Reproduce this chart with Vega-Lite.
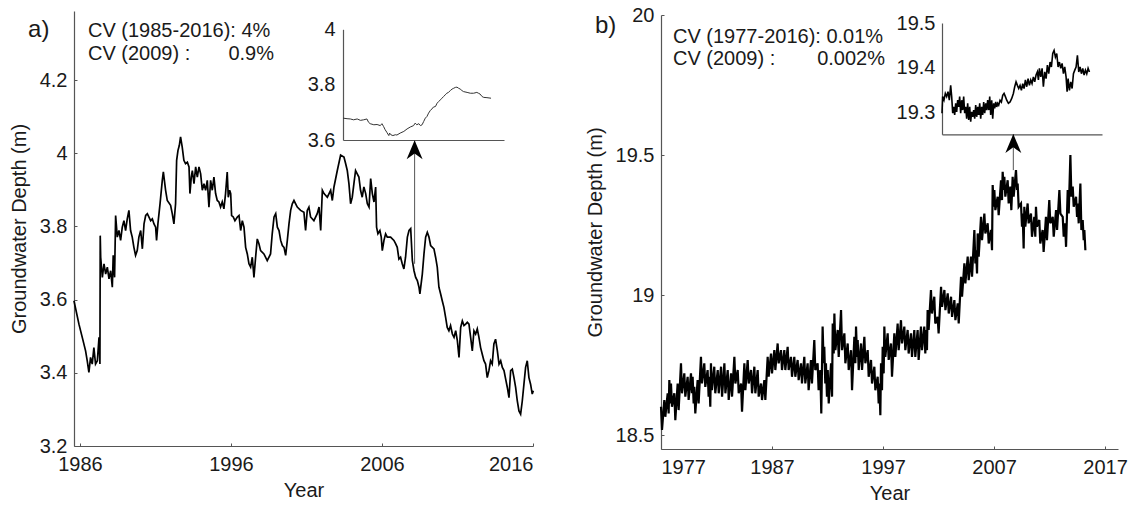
{
"$schema":"https://vega.github.io/schema/vega-lite/v6.json",
"width":1132,"height":506,"padding":0,"autosize":{"type":"none"},"background":"white",
"config":{"view":{"stroke":null},"axis":{"grid":false,"labelFont":"Liberation Sans","titleFont":"Liberation Sans","labelFontSize":20,"titleFontSize":20,"titleFontWeight":"normal","labelColor":"#1a1a1a","titleColor":"#1a1a1a","domainColor":"#555555","tickColor":"#555555","domainWidth":1.2,"tickWidth":1},"text":{"font":"Liberation Sans","fontSize":20,"color":"#1a1a1a"}},
"layer":[
{"layer":[
{"data":{"values":[
{"year":1985.60,"depth":3.597},{"year":1985.93,"depth":3.533},{"year":1986.15,"depth":3.497},{"year":1986.37,"depth":3.460},{"year":1986.48,"depth":3.433},{"year":1986.59,"depth":3.401},{"year":1986.70,"depth":3.442},{"year":1986.81,"depth":3.424},{"year":1986.92,"depth":3.469},{"year":1987.03,"depth":3.424},{"year":1987.15,"depth":3.433},{"year":1987.26,"depth":3.497},{"year":1987.32,"depth":3.424},{"year":1987.34,"depth":3.775},{"year":1987.37,"depth":3.716},{"year":1987.48,"depth":3.661},{"year":1987.59,"depth":3.698},{"year":1987.70,"depth":3.670},{"year":1987.81,"depth":3.689},{"year":1987.92,"depth":3.657},{"year":1988.03,"depth":3.679},{"year":1988.14,"depth":3.634},{"year":1988.20,"depth":3.721},{"year":1988.29,"depth":3.661},{"year":1988.36,"depth":3.830},{"year":1988.47,"depth":3.771},{"year":1988.58,"depth":3.789},{"year":1988.69,"depth":3.762},{"year":1988.80,"depth":3.798},{"year":1988.91,"depth":3.816},{"year":1989.02,"depth":3.789},{"year":1989.13,"depth":3.821},{"year":1989.24,"depth":3.844},{"year":1989.35,"depth":3.789},{"year":1989.46,"depth":3.771},{"year":1989.57,"depth":3.743},{"year":1989.68,"depth":3.721},{"year":1989.79,"depth":3.734},{"year":1989.90,"depth":3.771},{"year":1990.02,"depth":3.789},{"year":1990.13,"depth":3.739},{"year":1990.24,"depth":3.807},{"year":1990.35,"depth":3.830},{"year":1990.46,"depth":3.835},{"year":1990.68,"depth":3.816},{"year":1990.79,"depth":3.821},{"year":1990.90,"depth":3.807},{"year":1991.01,"depth":3.798},{"year":1991.07,"depth":3.762},{"year":1991.16,"depth":3.807},{"year":1991.30,"depth":3.862},{"year":1991.45,"depth":3.926},{"year":1991.52,"depth":3.949},{"year":1991.67,"depth":3.899},{"year":1991.78,"depth":3.871},{"year":1992.00,"depth":3.858},{"year":1992.11,"depth":3.835},{"year":1992.22,"depth":3.807},{"year":1992.33,"depth":3.862},{"year":1992.40,"depth":3.981},{"year":1992.49,"depth":4.008},{"year":1992.58,"depth":4.022},{"year":1992.66,"depth":4.045},{"year":1992.77,"depth":4.017},{"year":1992.88,"depth":3.981},{"year":1992.99,"depth":3.972},{"year":1993.11,"depth":3.976},{"year":1993.22,"depth":3.963},{"year":1993.28,"depth":3.890},{"year":1993.37,"depth":3.935},{"year":1993.44,"depth":3.953},{"year":1993.55,"depth":3.917},{"year":1993.66,"depth":3.963},{"year":1993.77,"depth":3.935},{"year":1993.88,"depth":3.963},{"year":1993.99,"depth":3.944},{"year":1994.10,"depth":3.899},{"year":1994.21,"depth":3.917},{"year":1994.32,"depth":3.899},{"year":1994.43,"depth":3.926},{"year":1994.54,"depth":3.853},{"year":1994.65,"depth":3.926},{"year":1994.76,"depth":3.899},{"year":1994.87,"depth":3.935},{"year":1994.98,"depth":3.890},{"year":1995.09,"depth":3.871},{"year":1995.20,"depth":3.867},{"year":1995.31,"depth":3.853},{"year":1995.42,"depth":3.867},{"year":1995.53,"depth":3.848},{"year":1995.64,"depth":3.890},{"year":1995.75,"depth":3.949},{"year":1995.82,"depth":3.880},{"year":1995.91,"depth":3.899},{"year":1995.98,"depth":3.890},{"year":1996.04,"depth":3.830},{"year":1996.15,"depth":3.826},{"year":1996.26,"depth":3.816},{"year":1996.42,"depth":3.826},{"year":1996.53,"depth":3.830},{"year":1996.64,"depth":3.789},{"year":1996.75,"depth":3.816},{"year":1996.86,"depth":3.798},{"year":1996.97,"depth":3.743},{"year":1997.08,"depth":3.725},{"year":1997.19,"depth":3.698},{"year":1997.30,"depth":3.689},{"year":1997.41,"depth":3.716},{"year":1997.52,"depth":3.661},{"year":1997.63,"depth":3.716},{"year":1997.74,"depth":3.766},{"year":1997.85,"depth":3.753},{"year":1997.96,"depth":3.734},{"year":1998.18,"depth":3.725},{"year":1998.40,"depth":3.707},{"year":1998.62,"depth":3.725},{"year":1998.73,"depth":3.780},{"year":1998.85,"depth":3.826},{"year":1998.96,"depth":3.835},{"year":1999.07,"depth":3.798},{"year":1999.18,"depth":3.789},{"year":1999.29,"depth":3.762},{"year":1999.40,"depth":3.748},{"year":1999.51,"depth":3.743},{"year":1999.62,"depth":3.721},{"year":1999.73,"depth":3.762},{"year":1999.84,"depth":3.807},{"year":1999.95,"depth":3.844},{"year":2000.06,"depth":3.862},{"year":2000.17,"depth":3.871},{"year":2000.39,"depth":3.853},{"year":2000.61,"depth":3.844},{"year":2000.83,"depth":3.839},{"year":2000.94,"depth":3.789},{"year":2001.05,"depth":3.844},{"year":2001.16,"depth":3.853},{"year":2001.27,"depth":3.826},{"year":2001.49,"depth":3.816},{"year":2001.71,"depth":3.835},{"year":2001.83,"depth":3.853},{"year":2001.94,"depth":3.789},{"year":2002.05,"depth":3.899},{"year":2002.16,"depth":3.890},{"year":2002.38,"depth":3.880},{"year":2002.60,"depth":3.899},{"year":2002.71,"depth":3.871},{"year":2002.82,"depth":3.908},{"year":2003.04,"depth":3.953},{"year":2003.26,"depth":3.995},{"year":2003.48,"depth":3.990},{"year":2003.59,"depth":3.972},{"year":2003.70,"depth":3.953},{"year":2003.81,"depth":3.917},{"year":2003.92,"depth":3.862},{"year":2004.03,"depth":3.880},{"year":2004.14,"depth":3.917},{"year":2004.25,"depth":3.953},{"year":2004.36,"depth":3.944},{"year":2004.47,"depth":3.935},{"year":2004.58,"depth":3.899},{"year":2004.69,"depth":3.880},{"year":2004.80,"depth":3.908},{"year":2004.92,"depth":3.890},{"year":2005.03,"depth":3.862},{"year":2005.14,"depth":3.853},{"year":2005.25,"depth":3.931},{"year":2005.36,"depth":3.890},{"year":2005.47,"depth":3.867},{"year":2005.58,"depth":3.908},{"year":2005.64,"depth":3.798},{"year":2005.73,"depth":3.780},{"year":2005.86,"depth":3.789},{"year":2005.95,"depth":3.771},{"year":2006.02,"depth":3.734},{"year":2006.13,"depth":3.762},{"year":2006.24,"depth":3.780},{"year":2006.35,"depth":3.771},{"year":2006.57,"depth":3.771},{"year":2006.79,"depth":3.762},{"year":2006.90,"depth":3.753},{"year":2007.01,"depth":3.743},{"year":2007.12,"depth":3.711},{"year":2007.23,"depth":3.716},{"year":2007.34,"depth":3.698},{"year":2007.45,"depth":3.684},{"year":2007.56,"depth":3.716},{"year":2007.68,"depth":3.771},{"year":2007.79,"depth":3.789},{"year":2007.90,"depth":3.794},{"year":2008.01,"depth":3.707},{"year":2008.12,"depth":3.679},{"year":2008.23,"depth":3.661},{"year":2008.34,"depth":3.652},{"year":2008.45,"depth":3.634},{"year":2008.51,"depth":3.616},{"year":2008.67,"depth":3.670},{"year":2008.78,"depth":3.725},{"year":2008.89,"depth":3.771},{"year":2009.00,"depth":3.784},{"year":2009.11,"depth":3.771},{"year":2009.22,"depth":3.748},{"year":2009.44,"depth":3.739},{"year":2009.55,"depth":3.716},{"year":2009.66,"depth":3.689},{"year":2009.77,"depth":3.634},{"year":2009.88,"depth":3.616},{"year":2009.99,"depth":3.597},{"year":2010.10,"depth":3.579},{"year":2010.21,"depth":3.552},{"year":2010.32,"depth":3.524},{"year":2010.43,"depth":3.515},{"year":2010.54,"depth":3.529},{"year":2010.66,"depth":3.506},{"year":2010.77,"depth":3.497},{"year":2010.88,"depth":3.515},{"year":2010.99,"depth":3.488},{"year":2011.10,"depth":3.442},{"year":2011.21,"depth":3.524},{"year":2011.32,"depth":3.542},{"year":2011.43,"depth":3.529},{"year":2011.54,"depth":3.533},{"year":2011.65,"depth":3.538},{"year":2011.76,"depth":3.533},{"year":2011.87,"depth":3.497},{"year":2011.98,"depth":3.460},{"year":2012.09,"depth":3.515},{"year":2012.20,"depth":3.506},{"year":2012.31,"depth":3.520},{"year":2012.42,"depth":3.497},{"year":2012.53,"depth":3.469},{"year":2012.64,"depth":3.451},{"year":2012.75,"depth":3.433},{"year":2012.86,"depth":3.424},{"year":2012.97,"depth":3.387},{"year":2013.08,"depth":3.406},{"year":2013.19,"depth":3.433},{"year":2013.30,"depth":3.424},{"year":2013.41,"depth":3.479},{"year":2013.52,"depth":3.492},{"year":2013.64,"depth":3.460},{"year":2013.75,"depth":3.424},{"year":2013.86,"depth":3.433},{"year":2013.97,"depth":3.415},{"year":2014.08,"depth":3.406},{"year":2014.19,"depth":3.383},{"year":2014.30,"depth":3.360},{"year":2014.41,"depth":3.332},{"year":2014.52,"depth":3.406},{"year":2014.63,"depth":3.410},{"year":2014.74,"depth":3.387},{"year":2014.85,"depth":3.360},{"year":2014.96,"depth":3.323},{"year":2015.07,"depth":3.296},{"year":2015.18,"depth":3.287},{"year":2015.29,"depth":3.323},{"year":2015.40,"depth":3.369},{"year":2015.51,"depth":3.415},{"year":2015.62,"depth":3.433},{"year":2015.73,"depth":3.387},{"year":2015.84,"depth":3.369},{"year":2015.95,"depth":3.342},{"year":2016.02,"depth":3.351}
]},
"mark":{"type":"line","color":"black","strokeWidth":1.7},
"encoding":{
"x":{"field":"year","type":"quantitative","scale":{"domain":[1985.603,2016.0],"range":[74,533],"nice":false,"zero":false},"axis":{"orient":"bottom","offset":-60,"values":[1986,1996,2006,2016],"format":"d","tickSize":-3,"labelPadding":11,"title":"Year","titlePadding":6}},
"y":{"field":"depth","type":"quantitative","scale":{"domain":[3.2,4.389],"range":[446,11],"nice":false,"zero":false},"axis":{"orient":"left","offset":-74,"values":[3.2,3.4,3.6,3.8,4,4.2],"labelExpr":"'' + datum.value","tickSize":-3,"labelPadding":10,"title":"Groundwater Depth (m)","titlePadding":10}}
}},
{"data":{"values":[{}]},"mark":{"type":"rule","color":"#555555","strokeWidth":1},"encoding":{"x":{"datum":2008.16},"y":{"datum":3.698},"y2":{"datum":4.036}}},
{"data":{"values":[{}]},"mark":{"type":"point","shape":"M0,0L0.42,1L0,0.7L-0.42,1Z","size":1444,"filled":true,"color":"black","opacity":1,"strokeWidth":0},"encoding":{"x":{"datum":2008.16},"y":{"datum":4.036}}},
{"data":{"values":[{}]},"mark":{"type":"text","text":"a)","fontSize":24,"align":"left","baseline":"alphabetic"},"encoding":{"x":{"datum":1982.56},"y":{"datum":4.319}}},
{"data":{"values":[{}]},"mark":{"type":"text","text":"CV (1985-2016): 4%","align":"left","baseline":"alphabetic"},"encoding":{"x":{"datum":1986.53},"y":{"datum":4.317}}},
{"data":{"values":[{}]},"mark":{"type":"text","text":"CV (2009) :","align":"left","baseline":"alphabetic"},"encoding":{"x":{"datum":1986.53},"y":{"datum":4.255}}},
{"data":{"values":[{}]},"mark":{"type":"text","text":"0.9%","align":"right","baseline":"alphabetic"},"encoding":{"x":{"datum":1998.85},"y":{"datum":4.255}}}
]},
{"data":{"values":[
{"day":1,"depth":3.679},{"day":11,"depth":3.677},{"day":19,"depth":3.676},{"day":27,"depth":3.673},{"day":36,"depth":3.676},{"day":44,"depth":3.671},{"day":52,"depth":3.673},{"day":60,"depth":3.676},{"day":64,"depth":3.664},{"day":68,"depth":3.659},{"day":77,"depth":3.655},{"day":85,"depth":3.656},{"day":93,"depth":3.652},{"day":97,"depth":3.659},{"day":101,"depth":3.649},{"day":105,"depth":3.637},{"day":109,"depth":3.628},{"day":114,"depth":3.616},{"day":116,"depth":3.625},{"day":119,"depth":3.619},{"day":124,"depth":3.616},{"day":130,"depth":3.619},{"day":134,"depth":3.618},{"day":142,"depth":3.625},{"day":151,"depth":3.631},{"day":159,"depth":3.640},{"day":167,"depth":3.647},{"day":175,"depth":3.652},{"day":179,"depth":3.661},{"day":183,"depth":3.655},{"day":188,"depth":3.659},{"day":192,"depth":3.652},{"day":196,"depth":3.655},{"day":200,"depth":3.667},{"day":204,"depth":3.679},{"day":208,"depth":3.685},{"day":212,"depth":3.697},{"day":216,"depth":3.706},{"day":220,"depth":3.712},{"day":224,"depth":3.719},{"day":229,"depth":3.721},{"day":233,"depth":3.733},{"day":237,"depth":3.739},{"day":241,"depth":3.745},{"day":245,"depth":3.751},{"day":249,"depth":3.757},{"day":253,"depth":3.763},{"day":257,"depth":3.769},{"day":261,"depth":3.772},{"day":266,"depth":3.779},{"day":270,"depth":3.784},{"day":274,"depth":3.787},{"day":278,"depth":3.790},{"day":282,"depth":3.791},{"day":286,"depth":3.787},{"day":290,"depth":3.784},{"day":294,"depth":3.779},{"day":298,"depth":3.775},{"day":307,"depth":3.772},{"day":315,"depth":3.769},{"day":323,"depth":3.769},{"day":331,"depth":3.772},{"day":335,"depth":3.769},{"day":339,"depth":3.766},{"day":344,"depth":3.757},{"day":348,"depth":3.754},{"day":356,"depth":3.753},{"day":366,"depth":3.751}
]},
"mark":{"type":"line","color":"#333333","strokeWidth":1},
"encoding":{
"x":{"field":"day","type":"quantitative","scale":{"domain":[1,398],"range":[343,504],"nice":false,"zero":false},"axis":{"orient":"bottom","offset":-366,"labels":false,"ticks":false,"title":null}},
"y":{"field":"depth","type":"quantitative","scale":{"domain":[3.6,4.0],"range":[140,29.3],"nice":false,"zero":false},"axis":{"orient":"left","offset":-343,"values":[3.6,3.8,4],"labelExpr":"'' + datum.value","ticks":false,"labelPadding":8,"title":null}}
}},
{"layer":[
{"data":{"values":[
{"year":1977.00,"depth":18.601},{"year":1977.09,"depth":18.518},{"year":1977.30,"depth":18.625},{"year":1977.39,"depth":18.565},{"year":1977.60,"depth":18.649},{"year":1977.69,"depth":18.577},{"year":1977.75,"depth":18.696},{"year":1977.84,"depth":18.613},{"year":1977.90,"depth":18.684},{"year":1977.99,"depth":18.601},{"year":1978.20,"depth":18.649},{"year":1978.29,"depth":18.553},{"year":1978.50,"depth":18.684},{"year":1978.59,"depth":18.589},{"year":1978.80,"depth":18.756},{"year":1978.89,"depth":18.649},{"year":1979.10,"depth":18.720},{"year":1979.19,"depth":18.637},{"year":1979.40,"depth":18.708},{"year":1979.49,"depth":18.625},{"year":1979.70,"depth":18.720},{"year":1979.79,"depth":18.649},{"year":1979.85,"depth":18.708},{"year":1979.94,"depth":18.613},{"year":1980.00,"depth":18.672},{"year":1980.09,"depth":18.577},{"year":1980.30,"depth":18.696},{"year":1980.39,"depth":18.613},{"year":1980.60,"depth":18.779},{"year":1980.69,"depth":18.684},{"year":1980.90,"depth":18.756},{"year":1980.99,"depth":18.672},{"year":1981.20,"depth":18.732},{"year":1981.29,"depth":18.637},{"year":1981.35,"depth":18.708},{"year":1981.44,"depth":18.601},{"year":1981.50,"depth":18.756},{"year":1981.59,"depth":18.660},{"year":1981.80,"depth":18.744},{"year":1981.89,"depth":18.649},{"year":1982.11,"depth":18.732},{"year":1982.20,"depth":18.649},{"year":1982.41,"depth":18.744},{"year":1982.50,"depth":18.637},{"year":1982.71,"depth":18.756},{"year":1982.80,"depth":18.649},{"year":1983.01,"depth":18.732},{"year":1983.10,"depth":18.625},{"year":1983.31,"depth":18.720},{"year":1983.40,"depth":18.637},{"year":1983.61,"depth":18.779},{"year":1983.70,"depth":18.684},{"year":1983.91,"depth":18.732},{"year":1984.00,"depth":18.649},{"year":1984.21,"depth":18.684},{"year":1984.30,"depth":18.583},{"year":1984.51,"depth":18.756},{"year":1984.60,"depth":18.660},{"year":1984.81,"depth":18.768},{"year":1984.90,"depth":18.684},{"year":1985.11,"depth":18.732},{"year":1985.20,"depth":18.649},{"year":1985.41,"depth":18.744},{"year":1985.50,"depth":18.649},{"year":1985.71,"depth":18.732},{"year":1985.80,"depth":18.637},{"year":1986.01,"depth":18.684},{"year":1986.10,"depth":18.625},{"year":1986.31,"depth":18.696},{"year":1986.40,"depth":18.625},{"year":1986.61,"depth":18.779},{"year":1986.70,"depth":18.708},{"year":1986.91,"depth":18.791},{"year":1987.00,"depth":18.720},{"year":1987.21,"depth":18.803},{"year":1987.30,"depth":18.732},{"year":1987.51,"depth":18.827},{"year":1987.60,"depth":18.756},{"year":1987.81,"depth":18.803},{"year":1987.90,"depth":18.732},{"year":1988.11,"depth":18.803},{"year":1988.20,"depth":18.732},{"year":1988.41,"depth":18.815},{"year":1988.50,"depth":18.732},{"year":1988.71,"depth":18.779},{"year":1988.80,"depth":18.708},{"year":1989.01,"depth":18.779},{"year":1989.10,"depth":18.708},{"year":1989.31,"depth":18.768},{"year":1989.40,"depth":18.696},{"year":1989.61,"depth":18.756},{"year":1989.70,"depth":18.684},{"year":1989.91,"depth":18.779},{"year":1990.00,"depth":18.684},{"year":1990.21,"depth":18.756},{"year":1990.30,"depth":18.660},{"year":1990.51,"depth":18.768},{"year":1990.60,"depth":18.684},{"year":1990.81,"depth":18.839},{"year":1990.90,"depth":18.732},{"year":1991.11,"depth":18.756},{"year":1991.20,"depth":18.660},{"year":1991.35,"depth":18.732},{"year":1991.44,"depth":18.577},{"year":1991.56,"depth":18.887},{"year":1991.65,"depth":18.756},{"year":1991.71,"depth":18.815},{"year":1991.80,"depth":18.684},{"year":1991.86,"depth":18.756},{"year":1991.95,"depth":18.637},{"year":1992.02,"depth":18.732},{"year":1992.11,"depth":18.613},{"year":1992.32,"depth":18.756},{"year":1992.41,"depth":18.637},{"year":1992.47,"depth":18.898},{"year":1992.56,"depth":18.791},{"year":1992.62,"depth":18.934},{"year":1992.71,"depth":18.803},{"year":1992.92,"depth":18.875},{"year":1993.01,"depth":18.779},{"year":1993.22,"depth":18.946},{"year":1993.31,"depth":18.803},{"year":1993.52,"depth":18.863},{"year":1993.61,"depth":18.756},{"year":1993.82,"depth":18.827},{"year":1993.91,"depth":18.732},{"year":1994.12,"depth":18.803},{"year":1994.21,"depth":18.660},{"year":1994.42,"depth":18.851},{"year":1994.51,"depth":18.756},{"year":1994.57,"depth":18.887},{"year":1994.66,"depth":18.779},{"year":1994.72,"depth":18.839},{"year":1994.81,"depth":18.732},{"year":1995.02,"depth":18.827},{"year":1995.11,"depth":18.732},{"year":1995.32,"depth":18.851},{"year":1995.41,"depth":18.756},{"year":1995.62,"depth":18.803},{"year":1995.71,"depth":18.708},{"year":1995.92,"depth":18.768},{"year":1996.01,"depth":18.684},{"year":1996.22,"depth":18.744},{"year":1996.31,"depth":18.660},{"year":1996.52,"depth":18.708},{"year":1996.61,"depth":18.613},{"year":1996.67,"depth":18.684},{"year":1996.76,"depth":18.571},{"year":1996.82,"depth":18.756},{"year":1996.91,"depth":18.660},{"year":1996.97,"depth":18.815},{"year":1997.06,"depth":18.720},{"year":1997.12,"depth":18.887},{"year":1997.21,"depth":18.779},{"year":1997.42,"depth":18.863},{"year":1997.51,"depth":18.768},{"year":1997.72,"depth":18.827},{"year":1997.81,"depth":18.708},{"year":1998.02,"depth":18.863},{"year":1998.11,"depth":18.779},{"year":1998.32,"depth":18.898},{"year":1998.41,"depth":18.803},{"year":1998.62,"depth":18.910},{"year":1998.71,"depth":18.827},{"year":1998.92,"depth":18.887},{"year":1999.01,"depth":18.803},{"year":1999.22,"depth":18.875},{"year":1999.31,"depth":18.791},{"year":1999.52,"depth":18.863},{"year":1999.61,"depth":18.779},{"year":1999.82,"depth":18.875},{"year":1999.91,"depth":18.779},{"year":2000.12,"depth":18.875},{"year":2000.21,"depth":18.768},{"year":2000.42,"depth":18.887},{"year":2000.51,"depth":18.803},{"year":2000.72,"depth":18.887},{"year":2000.81,"depth":18.791},{"year":2000.87,"depth":18.875},{"year":2000.96,"depth":18.803},{"year":2001.02,"depth":18.946},{"year":2001.11,"depth":18.875},{"year":2001.32,"depth":19.018},{"year":2001.41,"depth":18.934},{"year":2001.62,"depth":18.994},{"year":2001.71,"depth":18.898},{"year":2001.92,"depth":18.922},{"year":2002.01,"depth":18.863},{"year":2002.23,"depth":19.029},{"year":2002.32,"depth":18.958},{"year":2002.53,"depth":19.018},{"year":2002.62,"depth":18.946},{"year":2002.83,"depth":19.006},{"year":2002.92,"depth":18.934},{"year":2003.13,"depth":18.994},{"year":2003.22,"depth":18.922},{"year":2003.43,"depth":18.982},{"year":2003.52,"depth":18.910},{"year":2003.73,"depth":18.970},{"year":2003.82,"depth":18.898},{"year":2004.03,"depth":19.065},{"year":2004.12,"depth":18.994},{"year":2004.33,"depth":19.113},{"year":2004.42,"depth":19.041},{"year":2004.63,"depth":19.137},{"year":2004.72,"depth":19.053},{"year":2004.93,"depth":19.137},{"year":2005.02,"depth":19.065},{"year":2005.23,"depth":19.232},{"year":2005.32,"depth":19.113},{"year":2005.38,"depth":19.160},{"year":2005.47,"depth":19.077},{"year":2005.53,"depth":19.220},{"year":2005.62,"depth":19.137},{"year":2005.83,"depth":19.279},{"year":2005.92,"depth":19.196},{"year":2006.13,"depth":19.291},{"year":2006.22,"depth":19.220},{"year":2006.43,"depth":19.256},{"year":2006.52,"depth":19.184},{"year":2006.73,"depth":19.232},{"year":2006.82,"depth":19.160},{"year":2006.88,"depth":19.393},{"year":2006.97,"depth":19.315},{"year":2007.03,"depth":19.375},{"year":2007.12,"depth":19.303},{"year":2007.33,"depth":19.351},{"year":2007.42,"depth":19.285},{"year":2007.63,"depth":19.410},{"year":2007.72,"depth":19.339},{"year":2007.78,"depth":19.440},{"year":2007.87,"depth":19.375},{"year":2007.93,"depth":19.422},{"year":2008.02,"depth":19.351},{"year":2008.23,"depth":19.410},{"year":2008.32,"depth":19.327},{"year":2008.47,"depth":19.387},{"year":2008.56,"depth":19.303},{"year":2008.68,"depth":19.422},{"year":2008.77,"depth":19.351},{"year":2008.98,"depth":19.446},{"year":2009.07,"depth":19.375},{"year":2009.13,"depth":19.398},{"year":2009.22,"depth":19.315},{"year":2009.43,"depth":19.327},{"year":2009.52,"depth":19.244},{"year":2009.58,"depth":19.291},{"year":2009.67,"depth":19.166},{"year":2009.73,"depth":19.315},{"year":2009.82,"depth":19.244},{"year":2010.03,"depth":19.327},{"year":2010.12,"depth":19.256},{"year":2010.33,"depth":19.291},{"year":2010.42,"depth":19.208},{"year":2010.63,"depth":19.279},{"year":2010.72,"depth":19.208},{"year":2010.78,"depth":19.315},{"year":2010.87,"depth":19.244},{"year":2011.08,"depth":19.268},{"year":2011.17,"depth":19.184},{"year":2011.38,"depth":19.232},{"year":2011.47,"depth":19.154},{"year":2011.68,"depth":19.279},{"year":2011.77,"depth":19.196},{"year":2011.98,"depth":19.339},{"year":2012.07,"depth":19.256},{"year":2012.29,"depth":19.279},{"year":2012.38,"depth":19.208},{"year":2012.59,"depth":19.303},{"year":2012.68,"depth":19.232},{"year":2012.89,"depth":19.375},{"year":2012.98,"depth":19.291},{"year":2013.19,"depth":19.279},{"year":2013.28,"depth":19.208},{"year":2013.40,"depth":19.256},{"year":2013.49,"depth":19.172},{"year":2013.64,"depth":19.375},{"year":2013.73,"depth":19.291},{"year":2013.88,"depth":19.500},{"year":2013.97,"depth":19.351},{"year":2014.09,"depth":19.387},{"year":2014.18,"depth":19.315},{"year":2014.39,"depth":19.351},{"year":2014.48,"depth":19.279},{"year":2014.54,"depth":19.327},{"year":2014.63,"depth":19.256},{"year":2014.78,"depth":19.398},{"year":2014.87,"depth":19.232},{"year":2014.99,"depth":19.268},{"year":2015.08,"depth":19.196},{"year":2015.14,"depth":19.232},{"year":2015.23,"depth":19.160}
]},
"mark":{"type":"line","color":"black","strokeWidth":2.2},
"encoding":{
"x":{"field":"year","type":"quantitative","scale":{"domain":[1977,2018.17],"range":[661,1118],"nice":false,"zero":false},"axis":{"orient":"bottom","offset":-57,"values":[1977,1987,1997,2007,2017],"format":"d","tickSize":-3,"labelPadding":11,"title":"Year","titlePadding":6}},
"y":{"field":"depth","type":"quantitative","scale":{"domain":[18.45,20],"range":[449,15],"nice":false,"zero":false},"axis":{"orient":"left","offset":-661,"values":[18.5,19,19.5,20],"labelExpr":"'' + datum.value","tickSize":-3,"labelPadding":10,"title":"Groundwater Depth (m)","titlePadding":10}}
}},
{"data":{"values":[{}]},"mark":{"type":"rule","color":"#555555","strokeWidth":1},"encoding":{"x":{"datum":2008.74},"y":{"datum":19.446},"y2":{"datum":19.575}}},
{"data":{"values":[{}]},"mark":{"type":"point","shape":"M0,0L0.42,1L0,0.7L-0.42,1Z","size":1444,"filled":true,"color":"black","opacity":1,"strokeWidth":0},"encoding":{"x":{"datum":2008.74},"y":{"datum":19.575}}},
{"data":{"values":[{}]},"mark":{"type":"text","text":"b)","fontSize":24,"align":"left","baseline":"alphabetic"},"encoding":{"x":{"datum":1971.05},"y":{"datum":19.935}}},
{"data":{"values":[{}]},"mark":{"type":"text","text":"CV (1977-2016): 0.01%","align":"left","baseline":"alphabetic"},"encoding":{"x":{"datum":1978.08},"y":{"datum":19.899}}},
{"data":{"values":[{}]},"mark":{"type":"text","text":"CV (2009) :","align":"left","baseline":"alphabetic"},"encoding":{"x":{"datum":1978.08},"y":{"datum":19.820}}},
{"data":{"values":[{}]},"mark":{"type":"text","text":"0.002%","align":"right","baseline":"alphabetic"},"encoding":{"x":{"datum":1997.18},"y":{"datum":19.820}}}
]},
{"data":{"values":[
{"day":1,"depth":19.299},{"day":2.6,"depth":19.336},{"day":5.9,"depth":19.328},{"day":9.2,"depth":19.343},{"day":12.5,"depth":19.336},{"day":15.8,"depth":19.347},{"day":19.1,"depth":19.328},{"day":22.4,"depth":19.361},{"day":24.9,"depth":19.336},{"day":27.4,"depth":19.299},{"day":29.8,"depth":19.313},{"day":32.3,"depth":19.295},{"day":34.8,"depth":19.321},{"day":37.2,"depth":19.302},{"day":39.7,"depth":19.328},{"day":42.2,"depth":19.313},{"day":44.6,"depth":19.336},{"day":47.1,"depth":19.299},{"day":49.6,"depth":19.328},{"day":52.1,"depth":19.306},{"day":54.5,"depth":19.336},{"day":57.0,"depth":19.299},{"day":59.5,"depth":19.313},{"day":61.9,"depth":19.287},{"day":64.4,"depth":19.321},{"day":66.9,"depth":19.284},{"day":69.4,"depth":19.313},{"day":71.8,"depth":19.280},{"day":74.3,"depth":19.302},{"day":76.8,"depth":19.291},{"day":79.2,"depth":19.306},{"day":81.7,"depth":19.287},{"day":84.2,"depth":19.317},{"day":86.6,"depth":19.291},{"day":89.1,"depth":19.313},{"day":91.6,"depth":19.295},{"day":94.1,"depth":19.321},{"day":96.5,"depth":19.287},{"day":99.0,"depth":19.313},{"day":101.5,"depth":19.295},{"day":103.9,"depth":19.324},{"day":106.4,"depth":19.299},{"day":108.9,"depth":19.321},{"day":111.3,"depth":19.306},{"day":113.8,"depth":19.328},{"day":116.3,"depth":19.306},{"day":118.8,"depth":19.336},{"day":121.2,"depth":19.295},{"day":123.7,"depth":19.328},{"day":126.2,"depth":19.287},{"day":128.6,"depth":19.321},{"day":131.1,"depth":19.310},{"day":133.6,"depth":19.324},{"day":136.1,"depth":19.313},{"day":138.5,"depth":19.321},{"day":141.0,"depth":19.317},{"day":144.3,"depth":19.328},{"day":147.6,"depth":19.324},{"day":150.9,"depth":19.339},{"day":154.2,"depth":19.343},{"day":157.5,"depth":19.336},{"day":160.8,"depth":19.328},{"day":164.9,"depth":19.321},{"day":169.0,"depth":19.324},{"day":173.1,"depth":19.332},{"day":177.2,"depth":19.343},{"day":180.5,"depth":19.358},{"day":183.8,"depth":19.369},{"day":187.1,"depth":19.361},{"day":190.4,"depth":19.354},{"day":193.7,"depth":19.361},{"day":197.0,"depth":19.350},{"day":200.3,"depth":19.365},{"day":203.6,"depth":19.354},{"day":206.9,"depth":19.373},{"day":210.2,"depth":19.358},{"day":213.5,"depth":19.376},{"day":216.8,"depth":19.361},{"day":220.1,"depth":19.373},{"day":223.3,"depth":19.365},{"day":226.6,"depth":19.380},{"day":229.9,"depth":19.369},{"day":233.2,"depth":19.384},{"day":236.5,"depth":19.391},{"day":239.0,"depth":19.373},{"day":241.5,"depth":19.399},{"day":244.8,"depth":19.380},{"day":248.1,"depth":19.399},{"day":251.3,"depth":19.358},{"day":254.6,"depth":19.391},{"day":257.9,"depth":19.376},{"day":261.2,"depth":19.406},{"day":264.5,"depth":19.387},{"day":267.8,"depth":19.413},{"day":271.1,"depth":19.402},{"day":274.4,"depth":19.432},{"day":277.7,"depth":19.439},{"day":281.0,"depth":19.424},{"day":284.3,"depth":19.432},{"day":287.6,"depth":19.402},{"day":290.9,"depth":19.413},{"day":294.2,"depth":19.399},{"day":297.5,"depth":19.410},{"day":300.8,"depth":19.387},{"day":304.0,"depth":19.402},{"day":307.3,"depth":19.380},{"day":309.8,"depth":19.347},{"day":312.3,"depth":19.376},{"day":315.6,"depth":19.350},{"day":318.9,"depth":19.369},{"day":322.2,"depth":19.354},{"day":325.5,"depth":19.387},{"day":328.8,"depth":19.395},{"day":332.0,"depth":19.402},{"day":335.3,"depth":19.428},{"day":338.6,"depth":19.391},{"day":341.9,"depth":19.402},{"day":345.2,"depth":19.387},{"day":348.5,"depth":19.399},{"day":351.8,"depth":19.384},{"day":355.1,"depth":19.395},{"day":358.4,"depth":19.387},{"day":361.7,"depth":19.399},{"day":365.0,"depth":19.391}
]},
"mark":{"type":"line","color":"black","strokeWidth":1.6},
"encoding":{
"x":{"field":"day","type":"quantitative","scale":{"domain":[1,396],"range":[942,1102],"nice":false,"zero":false},"axis":{"orient":"bottom","offset":-371.7,"labels":false,"ticks":false,"title":null}},
"y":{"field":"depth","type":"quantitative","scale":{"domain":[19.252,19.5],"range":[134.3,23],"nice":false,"zero":false},"axis":{"orient":"left","offset":-942,"values":[19.3,19.4,19.5],"labelExpr":"'' + datum.value","ticks":false,"labelPadding":7,"title":null}}
}}
],
"resolve":{"scale":{"x":"independent","y":"independent"},"axis":{"x":"independent","y":"independent"}}
}
